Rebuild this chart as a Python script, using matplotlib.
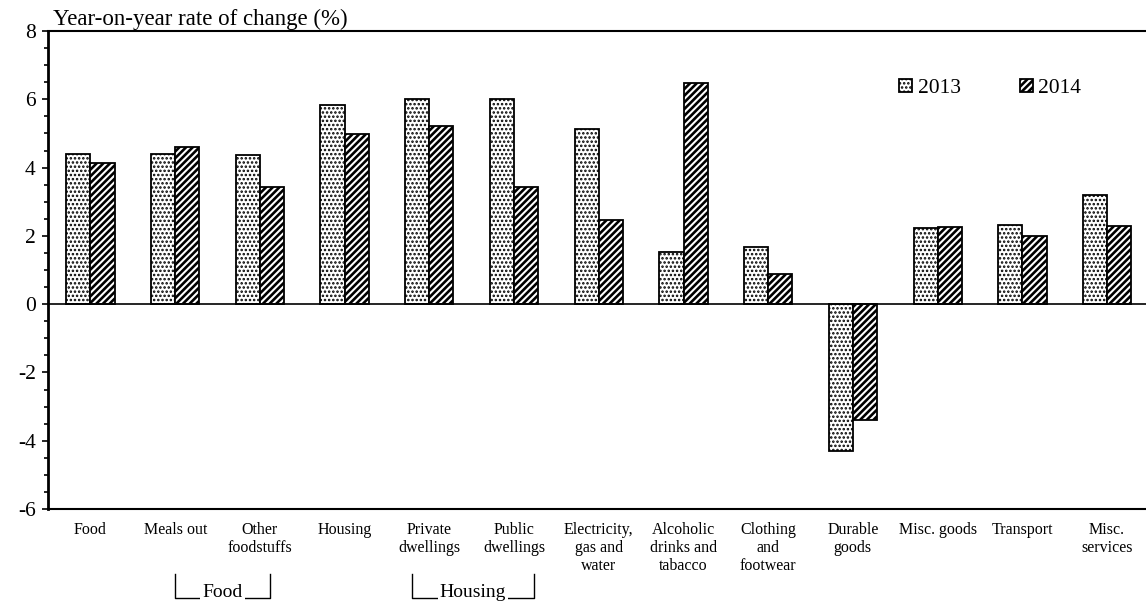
import matplotlib
matplotlib.use("Agg")
import matplotlib.pyplot as plt
import matplotlib.transforms as mtransforms
from matplotlib.ticker import MultipleLocator
import numpy as np

# --- DATOS ---
categorias = ["Food", "Meals out", "Other\nfoodstuffs", "Housing", "Private\ndwellings",
              "Public\ndwellings", "Electricity,\ngas and\nwater", "Alcoholic\ndrinks and\ntabacco",
              "Clothing\nand\nfootwear", "Durable\ngoods", "Misc. goods", "Transport", "Misc.\nservices"]
valores_2013 = [4.39, 4.39, 4.36, 5.83, 6.01, 6.0, 5.13, 1.52, 1.67, -4.3, 2.23, 2.32, 3.2]
valores_2014 = [4.13, 4.6, 3.43, 4.99, 5.21, 3.43, 2.47, 6.48, 0.88, -3.4, 2.26, 2.0, 2.29]
series = ["2013", "2014"]

# grupos (nombre, primera categoria, ultima categoria)
grupos = [("Food", 1, 2), ("Housing", 4, 5)]

plt.rcParams["font.family"] = ["Liberation Serif", "DejaVu Serif"]
plt.rcParams["axes.unicode_minus"] = False


def con_grosor_trama(patch, grosor):
    # segun la version, el grosor de trama se lee al crear o al dibujar el patch
    if hasattr(patch, "set_hatch_linewidth"):
        patch.set_hatch_linewidth(grosor)
    dibujar_original = patch.draw

    def dibujar(renderer):
        with plt.rc_context({"hatch.linewidth": grosor}):
            dibujar_original(renderer)
    patch.draw = dibujar


fig = plt.figure(figsize=(11.46, 6.07), dpi=100)
ax = fig.add_axes([0.042, 0.1614, 0.961, 0.7875])

x = np.arange(len(categorias))
w = 0.285
grosor_puntos = 1.2
grosor_rayas = 1.9

with plt.rc_context({"hatch.linewidth": grosor_puntos}):
    b1 = ax.bar(x - w / 2, valores_2013, w, color="white", edgecolor="black",
                linewidth=1.3, hatch="....", label=series[0])
with plt.rc_context({"hatch.linewidth": grosor_rayas}):
    b2 = ax.bar(x + w / 2, valores_2014, w, color="white", edgecolor="black",
                linewidth=1.3, hatch="/////", label=series[1])
for p in b1:
    con_grosor_trama(p, grosor_puntos)
for p in b2:
    con_grosor_trama(p, grosor_rayas)

ax.axhline(0, color="black", linewidth=1.2)

ax.set_xlim(-0.5, len(categorias) - 0.5)
ax.set_ylim(-6, 8)
ax.yaxis.set_major_locator(MultipleLocator(2))
ax.yaxis.set_minor_locator(MultipleLocator(0.5))
ax.tick_params(axis="y", which="major", direction="out", length=4, width=1.2,
               labelsize=15.5, pad=5)
ax.tick_params(axis="y", which="minor", direction="out", length=3, width=1.2)
ax.set_xticks(x)
ax.set_xticklabels(categorias, fontsize=11.5, linespacing=1.2)
ax.tick_params(axis="x", length=0, pad=9)

ax.spines["right"].set_visible(False)
ax.spines["left"].set_linewidth(2)
ax.spines["top"].set_linewidth(1.5)
ax.spines["bottom"].set_linewidth(1.5)

ax.text(0.004, 1.003, "Year-on-year rate of change (%)", transform=ax.transAxes,
        fontsize=16.5, ha="left", va="bottom")

leg = ax.legend(loc="upper left", bbox_to_anchor=(0.765, 0.918), ncol=2, frameon=False,
                fontsize=15.5, handlelength=0.6, handleheight=0.6, handletextpad=0.25,
                columnspacing=2.75, borderaxespad=0)
for h, grosor in zip(leg.legend_handles, (grosor_puntos, grosor_rayas)):
    con_grosor_trama(h, grosor)

# corchetes de grupo bajo las etiquetas
trans = mtransforms.blended_transform_factory(ax.transData, ax.transAxes)
y_arriba = -0.136
y_abajo = -0.186
for nombre, ini, fin in grupos:
    izq = ini + 0.0
    der = fin + 0.12 if nombre == "Food" else fin + 0.23
    if nombre == "Housing":
        izq = ini - 0.2
    ax.plot([izq, izq, der, der], [y_arriba, y_abajo, y_abajo, y_arriba],
            transform=trans, color="black", linewidth=1, clip_on=False)
    ax.text((izq + der) / 2, y_abajo + 0.012, nombre, transform=trans, fontsize=14,
            ha="center", va="center",
            bbox=dict(facecolor="white", edgecolor="none", pad=1.5))

fig.savefig("out.png", dpi=100)
